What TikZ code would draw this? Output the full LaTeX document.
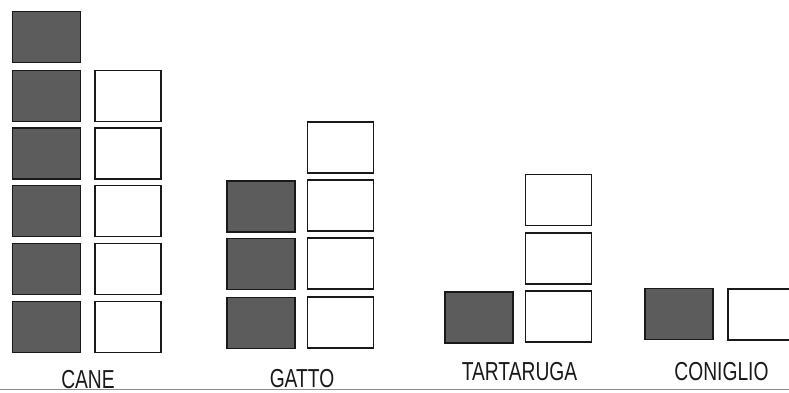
\documentclass[tikz,border=0pt]{standalone}
\usepackage{fontspec}
\newfontfamily\labelfont[FakeStretch=0.74]{Liberation Sans}
\tikzset{
    box/.style={draw=black!90, line width=1.8pt, inner sep=0pt, minimum height=51pt},
    fullbox/.style={box, fill=black!64, minimum width=68pt},
    emptybox/.style={box, fill=white, minimum width=66pt},
    animal/.style={anchor=base, text=black!90, font=\labelfont\fontsize{26}{26}\selectfont},
}
\begin{document}
\begin{tikzpicture}[x=1pt,y=-1pt]
    \clip (0,0) rectangle (789,393);
    % cane
    \foreach \n/\y in {1/37,2/96,3/153.5,4/211,5/269,6/327}
        \node[fullbox] (canef\n) at (46.5,\y) {};
    \foreach \n/\y in {2/96,3/153.5,4/211,5/269,6/327}
        \node[emptybox] (canee\n) at (128,\y) {};
    % gatto
    \foreach \n/\y in {4/206.5,5/264,6/323}
        \node[fullbox] (gattof\n) at (261,\y) {};
    \foreach \n/\y in {3/147.5,4/205.5,5/263.5,6/322.5}
        \node[emptybox] (gattoe\n) at (340.5,\y) {};
    % tartaruga
    \node[fullbox] (tartf6) at (479,317.5) {};
    \foreach \n/\y in {4/200,5/258.5,6/316.5}
        \node[emptybox] (tarte\n) at (558.5,\y) {};
    % coniglio
    \node[fullbox] (conif6) at (679,314) {};
    \node[emptybox] (conie6) at (761,314.5) {};
    % nomi
    \node[animal] (cane) at (88,388.5) {CANE};
    \node[animal] (gatto) at (302,387.5) {GATTO};
    \node[animal] (tart) at (519.5,380) {TARTARUGA};
    \node[animal] (coni) at (721.5,380) {CONIGLIO};
    \coordinate (base west) at (0,389.5);
    \coordinate (base east) at (789,389.5);
    \draw[black!45, line width=1pt] (base west) -- (base east);
\end{tikzpicture}
\end{document}
